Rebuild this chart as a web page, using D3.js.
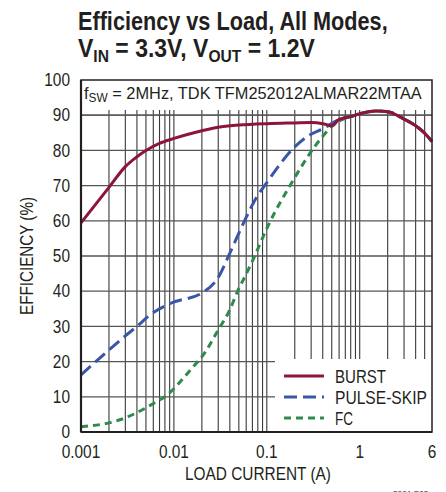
<!DOCTYPE html>
<html>
<head>
<meta charset="utf-8">
<script src="https://cdn.jsdelivr.net/npm/d3@7"></script>
<style>
  html, body { margin: 0; padding: 0; background: #fff; }
  svg { display: block; }
  text { font-family: 'Liberation Sans', Arial, sans-serif; fill: #231f20; }
</style>
</head>
<body>
<svg id="chart" width="446" height="492"></svg>
<script>
// ---- data ----
const burstX = [0.001, 0.002, 0.003, 0.004, 0.005, 0.007, 0.01, 0.02, 0.03, 0.05, 0.1, 0.2, 0.3, 0.4, 0.5, 0.6, 0.8, 1, 1.5, 2, 3, 4, 5, 6];
const burstY = [59.4, 69.5, 75.4, 78.2, 80.0, 82.0, 83.4, 85.6, 86.6, 87.2, 87.6, 87.8, 87.9, 87.6, 87.0, 88.8, 89.6, 90.4, 91.2, 91.0, 88.9, 87.0, 84.9, 82.5];
const pulseX = [0.001, 0.002, 0.003, 0.004, 0.0055, 0.0091, 0.0207, 0.03, 0.04, 0.056, 0.078, 0.096, 0.2, 0.29, 0.41, 0.52, 0.6, 0.8, 1, 1.5, 2, 3, 4, 5, 6];
const pulseY = [16.2, 23.3, 27.3, 30.0, 33.2, 36.5, 39.7, 43.9, 50.8, 59.3, 66.8, 70.2, 81.0, 84.4, 86.3, 87.9, 88.8, 89.6, 90.4, 91.2, 91.0, 88.9, 87.0, 84.9, 82.5];
const fcX = [0.001, 0.002, 0.003, 0.004, 0.0055, 0.0084, 0.0162, 0.0207, 0.03, 0.04, 0.049, 0.058, 0.071, 0.104, 0.193, 0.292, 0.4, 0.52, 0.667, 0.8, 1, 1.5, 2, 3, 4, 5, 6];
const fcY = [1.5, 2.6, 4.0, 5.5, 7.5, 10.5, 18.6, 21.9, 29.0, 34.7, 40.3, 44.1, 48.9, 58.8, 71.6, 79.2, 84.0, 87.2, 88.9, 89.6, 90.4, 91.2, 91.0, 88.9, 87.0, 84.9, 82.5];
const yTicks = [0, 10, 20, 30, 40, 50, 60, 70, 80, 90, 100];
const xTickValues = [0.001, 0.01, 0.1, 1, 6];
const xTickLabels = ["0.001", "0.01", "0.1", "1", "6"];
const seriesNames = ["BURST", "PULSE-SKIP", "FC"];
const seriesColors = ["#8c1538", "#3a56a8", "#2f8a4c"];
const seriesDash = [null, "13,6", "7,5"];

// ---- layout ----
const svg = d3.select("#chart");
const L = 81, R = 432, T = 80, B = 432;
const x = d3.scaleLog().domain([0.001, 6]).range([L, R]);
const y = d3.scaleLinear().domain([0, 100]).range([B, T]);

// horizontally compress a text to a target width (condensed look), anchored at ax
function fitWidth(sel, target, ax) {
  const w = sel.node().getComputedTextLength();
  const s = target / w;
  sel.attr("transform", `translate(${ax},0) scale(${s},1) translate(${-ax},0)`);
}
function scaleX(sel, s, ax) {
  sel.attr("transform", `translate(${ax},0) scale(${s},1) translate(${-ax},0)`);
}

svg.append("rect").attr("width", 446).attr("height", 492).attr("fill", "#fff");

// grid: vertical
const vGrid = [];
for (let e = -3; e <= 0; e++) for (let k = 1; k <= 9; k++) {
  const v = k * Math.pow(10, e);
  if (v > 0.001 && v < 6) vGrid.push(+v.toPrecision(3));
}
const grid = svg.append("g");
grid.selectAll("line.v").data(vGrid).join("line")
  .attr("x1", d => x(d)).attr("x2", d => x(d))
  .attr("y1", T).attr("y2", B)
  .attr("stroke", "#3a3a3a").attr("stroke-width", 1.1);
grid.selectAll("line.h").data(yTicks.filter(d => d > 0 && d < 100)).join("line")
  .attr("x1", L).attr("x2", R)
  .attr("y1", d => y(d)).attr("y2", d => y(d))
  .attr("stroke", "#555").attr("stroke-width", 1.3);

// white boxes (annotation & legend)
svg.append("rect").attr("x", L).attr("y", T).attr("width", R - L).attr("height", 30).attr("fill", "#fff");
svg.append("line").attr("x1", L).attr("x2", R).attr("y1", y(90)).attr("y2", y(90)).attr("stroke", "#555").attr("stroke-width", 1.3);
svg.append("rect").attr("x", 275).attr("y", 359).attr("width", R - 275).attr("height", B - 359).attr("fill", "#fff");

// series
const line = d3.line().x(d => x(d[0])).y(d => y(d[1])).curve(d3.curveMonotoneX);
const seriesData = [
  burstX.map((v, i) => [v, burstY[i]]),
  pulseX.map((v, i) => [v, pulseY[i]]),
  fcX.map((v, i) => [v, fcY[i]])
];
[2, 1, 0].forEach(i => {
  svg.append("path").datum(seriesData[i])
    .attr("d", line).attr("fill", "none")
    .attr("stroke", seriesColors[i]).attr("stroke-width", 3)
    .attr("stroke-dasharray", seriesDash[i]);
});

// frame
svg.append("rect").attr("x", L).attr("y", T).attr("width", R - L).attr("height", B - T)
  .attr("fill", "none").attr("stroke", "#231f20").attr("stroke-width", 1.5);
svg.append("line").attr("x1", L).attr("x2", R).attr("y1", B).attr("y2", B).attr("stroke", "#231f20").attr("stroke-width", 2.2);
svg.append("line").attr("x1", L).attr("x2", L).attr("y1", T).attr("y2", B).attr("stroke", "#231f20").attr("stroke-width", 2.2);

// y tick labels
svg.selectAll("text.yt").data(yTicks).join("text")
  .attr("class", "yt")
  .attr("x", 70).attr("y", d => y(d) + 6.3)
  .attr("text-anchor", "end").attr("font-size", 17.5).text(d => d)
  .each(function() { scaleX(d3.select(this), 0.88, 70); });
// x tick labels
svg.selectAll("text.xt").data(xTickValues).join("text")
  .attr("class", "xt")
  .attr("x", d => x(d)).attr("y", 458)
  .attr("text-anchor", "middle").attr("font-size", 17.5).text((d, i) => xTickLabels[i])
  .each(function(d) { scaleX(d3.select(this), 0.88, x(d)); });

// axis titles
const xl = svg.append("text").attr("x", 258).attr("y", 480).attr("text-anchor", "middle").attr("font-size", 19).text("LOAD CURRENT (A)");
fitWidth(xl, 146, 258);
const yl = svg.append("text").attr("x", 0).attr("y", 0).attr("text-anchor", "middle").attr("font-size", 18).text("EFFICIENCY (%)");
{
  const w = yl.node().getComputedTextLength();
  yl.attr("transform", `translate(33,256) rotate(-90) scale(${118 / w},1)`);
}

// annotation
const ann = svg.append("text").attr("x", 84).attr("y", 99).attr("font-size", 16.5);
ann.append("tspan").text("f");
ann.append("tspan").attr("font-size", 12).attr("dy", 3.5).text("SW");
ann.append("tspan").attr("dy", -3.5).text(" = 2MHz, TDK TFM252012ALMAR22MTAA");
fitWidth(ann, 338, 84);

// title
const t1 = svg.append("text").attr("x", 78).attr("y", 30).attr("font-size", 25).attr("font-weight", "bold").text("Efficiency vs Load, All Modes,");
fitWidth(t1, 310, 78);
const t2 = svg.append("text").attr("x", 78).attr("y", 57).attr("font-size", 25).attr("font-weight", "bold");
t2.append("tspan").text("V");
t2.append("tspan").attr("font-size", 17).attr("dy", 5).text("IN");
t2.append("tspan").attr("dy", -5).text(" = 3.3V, V");
t2.append("tspan").attr("font-size", 17).attr("dy", 5).text("OUT");
t2.append("tspan").attr("dy", -5).text(" = 1.2V");
fitWidth(t2, 237, 78);

// legend
const legendWidths = [51, 92, 18];
const leg = svg.append("g");
seriesNames.forEach((n, i) => {
  const ly = 376 + i * 21;
  leg.append("line").attr("x1", 284).attr("x2", 324).attr("y1", ly).attr("y2", ly)
    .attr("stroke", seriesColors[i]).attr("stroke-width", 3).attr("stroke-dasharray", seriesDash[i]);
  const lt = leg.append("text").attr("x", 335).attr("y", ly + 7).attr("font-size", 18.5).text(n);
  fitWidth(lt, legendWidths[i], 335);
});

// figure code (cut off at the bottom edge, as in the reference)
const fc = svg.append("text").attr("x", 393).attr("y", 496).attr("font-size", 8).attr("fill", "#666").text("3084 G03");
</script>
</body>
</html>
